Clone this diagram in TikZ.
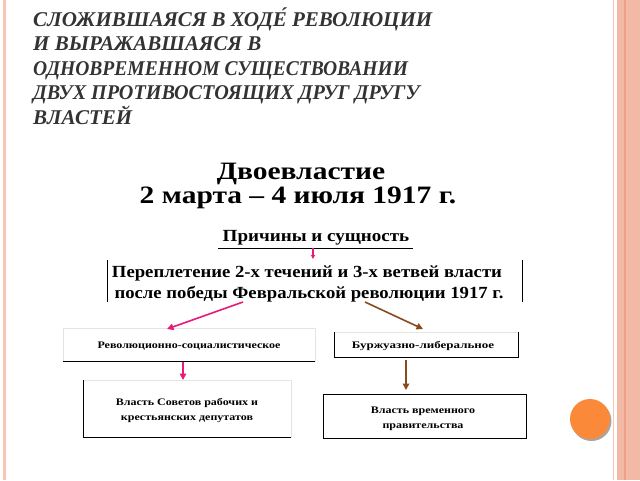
\documentclass[tikz,border=0pt]{standalone}
\usepackage{fontspec}
\usepackage{graphicx}
\setmainfont{Liberation Serif}
\usetikzlibrary{arrows.meta}
\definecolor{titlegray}{HTML}{333333}
\definecolor{bandpink}{HTML}{F2B9A5}
\definecolor{banddark}{HTML}{EBA189}
\definecolor{linepink}{HTML}{F7C6B5}
\definecolor{arrowpink}{HTML}{E8197A}
\definecolor{arrowbrown}{HTML}{8B4A1E}
\definecolor{dotorange}{HTML}{FA8A3A}
\definecolor{faint}{HTML}{E4E4E4}
\newcommand{\hstretch}[2]{\scalebox{#1}[1]{#2}}
\tikzset{
  ttl/.style={anchor=base west, inner sep=0pt, text=titlegray, font=\fontsize{21}{24}\selectfont\bfseries\itshape},
  big/.style={anchor=base, inner sep=0pt, font=\fontsize{25}{28}\selectfont\bfseries},
  mid/.style={anchor=base, inner sep=0pt, font=\fontsize{17}{18}\selectfont\bfseries},
  small/.style={anchor=base, inner sep=0pt, font=\fontsize{10}{11}\selectfont\bfseries},
  rule/.style={draw=black, line width=0.8pt},
  faintrule/.style={draw=faint, line width=0.6pt},
  pinkarrow/.style={draw=arrowpink, line width=1.6pt, -{Triangle[length=6.5pt,width=6.5pt]}},
  brownarrow/.style={draw=arrowbrown, line width=1.6pt, -{Triangle[length=6.5pt,width=6.5pt]}},
}
\begin{document}
\begin{tikzpicture}[x=1pt,y=-1pt]
\useasboundingbox (0,0) rectangle (640,480);
\fill[white] (0,0) rectangle (640,480);
% borders
\fill[linepink] (3,0) rectangle (6,480);
\fill[linepink] (612.5,0) rectangle (614,480);
\fill[bandpink] (617,0) rectangle (640,480);
\fill[banddark] (624,0) rectangle (625.5,480);
% title
\node[ttl] (t1) at (33,26) {СЛОЖИВШАЯСЯ В ХОДЕ́ РЕВОЛЮЦИИ};
\node[ttl] (t2) at (33,50.5) {И ВЫРАЖАВШАЯСЯ В};
\node[ttl] (t3) at (33,75) {\hstretch{0.93}{ОДНОВРЕМЕННОМ СУЩЕСТВОВАНИИ}};
\node[ttl] (t4) at (33,99.5) {\hstretch{0.96}{ДВУХ ПРОТИВОСТОЯЩИХ ДРУГ ДРУГУ}};
\node[ttl] (t5) at (33,124) {ВЛАСТЕЙ};
% heading
\node[big] (h1) at (301,179) {\hstretch{1.18}{Двоевластие}};
\node[big] (h2) at (298,203) {\hstretch{1.18}{2 марта – 4 июля 1917 г.}};
% causes
\node[mid] (c) at (316,241) {\hstretch{1.12}{Причины и сущность}};
\draw[rule] (218,248) -- (413,248);
\coordinate (ca) at (313,248);
\coordinate (cb) at (313,259);
\draw[pinkarrow, line width=1.2pt, -{Triangle[length=4pt,width=4pt]}] (ca) -- (cb);
% main box
\node[mid] (m1) at (307,277) {\hstretch{1.1}{Переплетение 2-х течений и 3-х ветвей власти}};
\node[mid] (m2) at (309,298) {\hstretch{1.1}{после победы Февральской революции 1917 г.}};
\draw[rule] (107,260) -- (107,302);
\draw[rule] (522,260) -- (522,302);
% branches
\draw[faintrule] (63,328) rectangle (315,361);
\draw[rule] (63,361) -- (315,361);
\node[small] (r) at (189,348) {\hstretch{1.2}{Революционно-социалистическое}};
\draw[faintrule] (83,380) rectangle (291,437);
\draw[rule] (83,380) -- (83,437) -- (291,437);
\node[small] (s1) at (187,405) {\hstretch{1.2}{Власть Советов рабочих и}};
\node[small] (s2) at (187,420) {\hstretch{1.2}{крестьянских депутатов}};

\draw[faintrule] (334,332) -- (518,332);
\draw[rule] (334,332) -- (334,357) -- (518,357) -- (518,332);
\node[small] (b) at (423,348) {\hstretch{1.3}{Буржуазно-либеральное}};
\draw[rule] (323,394) rectangle (526,438);
\node[small] (v1) at (423,413) {\hstretch{1.2}{Власть временного}};
\node[small] (v2) at (423,428) {\hstretch{1.2}{правительства}};

\coordinate (pa) at (243,302);
\coordinate (pb) at (167,329);
\draw[pinkarrow] (pa) -- (pb);
\coordinate (ba) at (365,302);
\coordinate (bb) at (423,329);
\draw[brownarrow] (ba) -- (bb);
\coordinate (pc) at (183,362);
\coordinate (pd) at (183,380);
\draw[pinkarrow] (pc) -- (pd);
\coordinate (bc) at (406,360);
\coordinate (bd) at (406,390);
\draw[brownarrow] (bc) -- (bd);
% orange dot
\fill[black!35] (591.5,421) circle (20);
\fill[dotorange] (590,419) node (dot) {} circle (20);
\end{tikzpicture}
\end{document}
